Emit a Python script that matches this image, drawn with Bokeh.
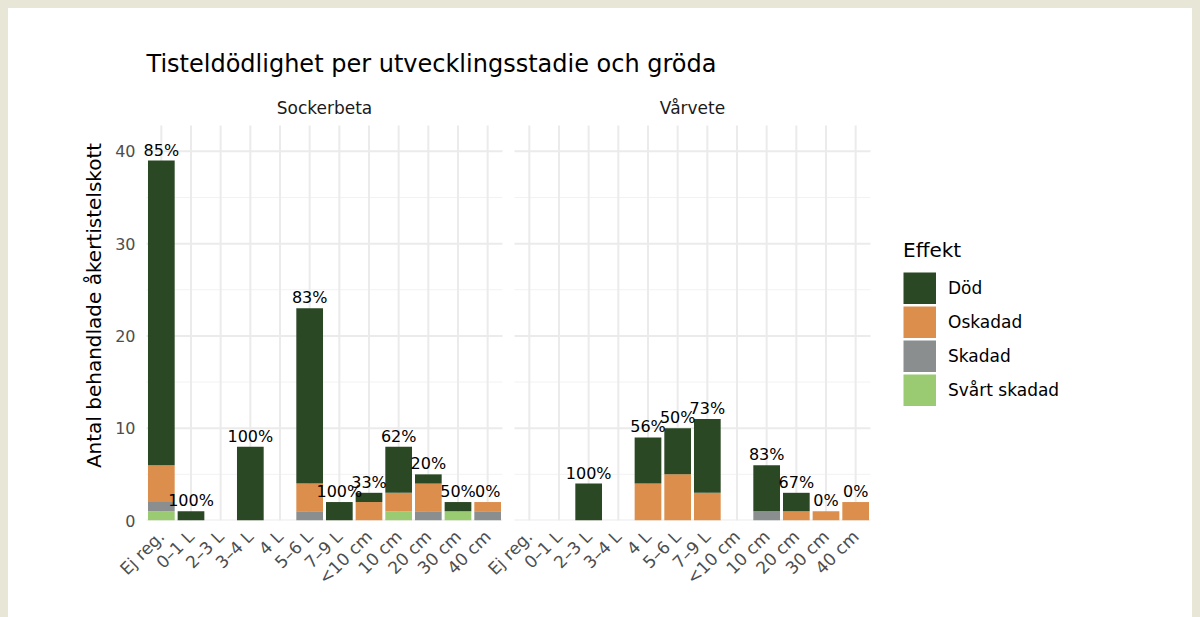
import math
from bokeh.plotting import figure
from bokeh.models import (ColumnDataSource, Range1d, FixedTicker, Legend, LegendItem,
                          Label, LabelSet)
from bokeh.embed import file_html
from bokeh.resources import INLINE
from bokeh.core.properties import value

# ---------------- data ----------------
stages = ["Ej reg.", "0–1 L", "2–3 L", "3–4 L", "4 L", "5–6 L", "7–9 L",
          "<10 cm", "10 cm", "20 cm", "30 cm", "40 cm"]
crops = ["Sockerbeta", "Vårvete"]
effects = ["Död", "Oskadad", "Skadad", "Svårt skadad"]
effect_colors = ["#2a4823", "#dc8e4c", "#8b8e8f", "#9aca72"]

sockerbeta_dod = [33, 1, 0, 8, 0, 19, 2, 1, 5, 1, 1, 0]
sockerbeta_oskadad = [4, 0, 0, 0, 0, 3, 0, 2, 2, 3, 0, 1]
sockerbeta_skadad = [1, 0, 0, 0, 0, 1, 0, 0, 0, 1, 0, 1]
sockerbeta_svart = [1, 0, 0, 0, 0, 0, 0, 0, 1, 0, 1, 0]

varvete_dod = [0, 0, 4, 0, 5, 5, 8, 0, 5, 2, 0, 0]
varvete_oskadad = [0, 0, 0, 0, 4, 5, 3, 0, 0, 1, 1, 2]
varvete_skadad = [0, 0, 0, 0, 0, 0, 0, 0, 1, 0, 0, 0]
varvete_svart = [0, 0, 0, 0, 0, 0, 0, 0, 0, 0, 0, 0]

y_ticks = [0, 10, 20, 30, 40]
y_minor = [5, 15, 25, 35]
panel_top = 42.8      # upper limit of each facet panel (data units)

# ---------------- layout (pixels) ----------------
FIG_W, FIG_H = 1192, 609
LEFT, TOP, BOTTOM = 130, 82, 97
PAD_LEFT_PX = 8.0         # frame extends this far left of the first panel
PANEL_PX = 356.0          # width of one facet panel
PANEL_H_PX = 395.0        # height of one facet panel
GAP_PX = 12.0
n = len(stages)
unit = PANEL_PX / n
gap = GAP_PX / unit
frame_w = FIG_W - LEFT
frame_h = FIG_H - TOP - BOTTOM
x_start = -PAD_LEFT_PX / unit
x_end = x_start + frame_w / unit
y_end = frame_h * panel_top / PANEL_H_PX

# ---------------- build table ----------------
series = {
    "Sockerbeta": (sockerbeta_dod, sockerbeta_oskadad, sockerbeta_skadad, sockerbeta_svart),
    "Vårvete": (varvete_dod, varvete_oskadad, varvete_skadad, varvete_svart),
}
data = {"x": [], "Död": [], "Oskadad": [], "Skadad": [], "Svårt skadad": []}
lab = {"x": [], "y": [], "t": []}
overrides = {}
panel_offsets = []
for ci, crop in enumerate(crops):
    off = ci * (n + gap)
    panel_offsets.append(off)
    dod, osk, ska, sva = series[crop]
    for si, st in enumerate(stages):
        x = round(off + si + 0.5, 4)
        overrides[x] = st
        data["x"].append(x)
        data["Död"].append(dod[si])
        data["Oskadad"].append(osk[si])
        data["Skadad"].append(ska[si])
        data["Svårt skadad"].append(sva[si])
        tot = dod[si] + osk[si] + ska[si] + sva[si]
        if tot > 0:
            lab["x"].append(x)
            lab["y"].append(tot)
            lab["t"].append(f"{round(100 * dod[si] / tot)}%")
source = ColumnDataSource(data)
lsource = ColumnDataSource(lab)
tick_x = list(overrides.keys())

FONT = "DejaVu Sans"
GRID = "#ebebeb"

p = figure(frame_width=frame_w, frame_height=frame_h, output_backend="svg",
           toolbar_location=None,
           x_range=Range1d(x_start, x_end), y_range=Range1d(0, y_end),
           min_border_left=LEFT, min_border_right=0, min_border_top=TOP,
           min_border_bottom=BOTTOM)
p.background_fill_color = "white"
p.border_fill_color = "white"
p.outline_line_color = None
p.styles = {"background-color": "white"}
p.xgrid.grid_line_color = None
p.ygrid.grid_line_color = None

# facet panel grid lines
for off in panel_offsets:
    p.segment(x0=[off] * len(y_minor), x1=[off + n] * len(y_minor), y0=y_minor, y1=y_minor,
              line_color="#f2f2f2", line_width=1, level="underlay")
    p.segment(x0=[off] * len(y_ticks), x1=[off + n] * len(y_ticks), y0=y_ticks, y1=y_ticks,
              line_color=GRID, line_width=2, level="underlay")
p.segment(x0=tick_x, x1=tick_x, y0=[0] * len(tick_x), y1=[panel_top] * len(tick_x),
          line_color=GRID, line_width=2, level="underlay")

stack_order = ["Svårt skadad", "Skadad", "Oskadad", "Död"]
stack_colors = [effect_colors[effects.index(s)] for s in stack_order]
rends = p.vbar_stack(stack_order, x="x", width=0.9, source=source,
                     color=stack_colors, line_color=None)

p.add_layout(LabelSet(x="x", y="y", text="t", source=lsource, text_align="center",
                      text_baseline="alphabetic", y_offset=5, text_font=value(FONT),
                      text_font_size="16px", text_color="black"))

# axes
p.xaxis.ticker = FixedTicker(ticks=tick_x)
p.xaxis.major_label_overrides = overrides
p.xaxis.major_label_orientation = math.pi / 4
p.xaxis.axis_line_color = None
p.xaxis.major_tick_line_color = None
p.xaxis.minor_tick_line_color = None
p.xaxis.major_tick_out = 0
p.xaxis.major_label_text_font = FONT
p.xaxis.major_label_text_font_size = "17px"
p.xaxis.major_label_text_color = "#4d4d4d"
p.xaxis.major_label_standoff = 13

p.yaxis.ticker = FixedTicker(ticks=y_ticks)
p.yaxis.axis_line_color = None
p.yaxis.major_tick_line_color = None
p.yaxis.minor_tick_line_color = None
p.yaxis.major_tick_out = 0
p.yaxis.major_label_text_font = FONT
p.yaxis.major_label_text_font_size = "16px"
p.yaxis.major_label_text_color = "#4d4d4d"
p.yaxis.major_label_standoff = 3
p.yaxis.axis_label = "Antal behandlade åkertistelskott"
p.yaxis.axis_label_text_font = FONT
p.yaxis.axis_label_text_font_size = "20px"
p.yaxis.axis_label_text_font_style = "normal"
p.yaxis.axis_label_text_color = "black"
p.yaxis.axis_label_standoff = 6

# title
p.title.text = "Tisteldödlighet per utvecklingsstadie och gröda"
p.title.text_font = FONT
p.title.text_font_size = "24px"
p.title.text_font_style = "normal"
p.title.text_color = "black"
p.title.align = "left"
p.title.offset = PAD_LEFT_PX
p.title.standoff = 25

# facet strip labels
for ci, crop in enumerate(crops):
    p.add_layout(Label(x=panel_offsets[ci] + n / 2, y=panel_top, text=crop,
                       text_align="center", text_baseline="alphabetic",
                       y_offset=18, text_font=FONT, text_font_size="17px",
                       text_color="#1a1a1a"))

# legend (square colour keys; one off-screen point each so the key is drawn)
keys = {e: p.line(x=[x_start - 100], y=[-100], line_color=c, line_width=32,
                  line_cap="butt")
        for e, c in zip(effects, effect_colors)}
legend = Legend(items=[LegendItem(label=e, renderers=[keys[e]]) for e in effects],
                title="Effekt", location=(765, 114))
legend.title_text_font = FONT
legend.title_text_font_size = "20px"
legend.title_text_font_style = "normal"
legend.title_text_color = "black"
legend.title_standoff = 10
legend.label_text_font = FONT
legend.label_text_font_size = "17px"
legend.label_text_color = "black"
legend.glyph_width = 33
legend.glyph_height = 32
legend.label_standoff = 12
legend.spacing = 2
legend.padding = 0
legend.margin = 0
legend.border_line_color = None
legend.background_fill_alpha = 0
p.add_layout(legend, "center")

html = file_html(p, INLINE, title="Tisteldödlighet")
html = html.replace("</head>",
                    "<style>html, body {background-color: #e8e6d6;} "
                    "body {margin: 8px !important;}</style></head>", 1)
open("out.html", "w").write(html)
